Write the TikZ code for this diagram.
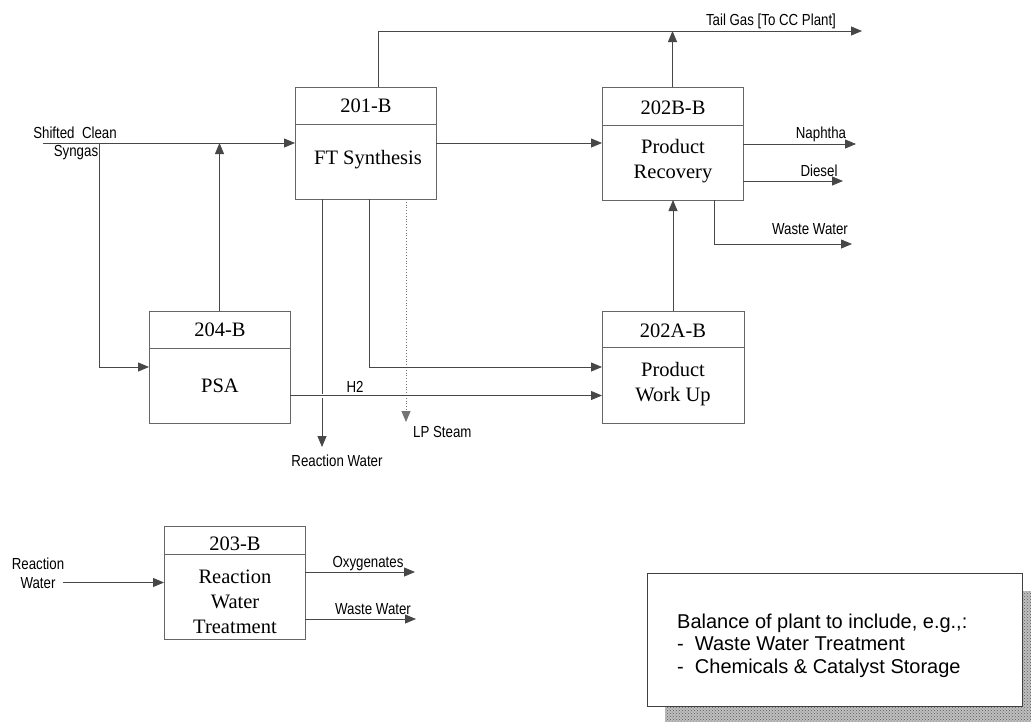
\documentclass[tikz,border=0pt]{standalone}
\usepackage{fontspec}
\setmainfont{Liberation Serif}
\newfontfamily\lblfont[FakeStretch=0.83]{Liberation Sans}
\newfontfamily\balfont{Liberation Sans}
\usetikzlibrary{arrows.meta,patterns}
\begin{document}
\begin{tikzpicture}[x=1pt,y=-1pt,
  box/.style={draw=black!60,line width=0.8pt,fill=white,inner sep=0pt,outer sep=0pt},
  divline/.style={draw=black!60,line width=0.8pt},
  conn/.style={draw=black!72,line width=0.8pt},
  arr/.style={conn,-{Triangle[length=11pt,width=9pt]}},
  halo/.style={preaction={draw=white,line width=4pt,arrows=-,shorten <=3pt,shorten >=3pt}},
  ttl/.style={font=\fontsize{20.5}{25}\selectfont,align=center,inner sep=0pt},
  lbl/.style={font=\lblfont\fontsize{16}{19}\selectfont,align=center,inner sep=0pt},
  baltext/.style={font=\balfont\fontsize{20}{22.5}\selectfont,align=left,inner sep=0pt}
]
\useasboundingbox (0,0) rectangle (1031,721);
\fill[white] (0,0) rectangle (1031,721);

% boxes
\node[box,minimum width=141pt,minimum height=112pt] (ft) at (365.5,143) {};
\node[box,minimum width=141pt,minimum height=113pt] (rec) at (672.5,143.5) {};
\node[box,minimum width=141pt,minimum height=112pt] (psa) at (219.5,367) {};
\node[box,minimum width=142pt,minimum height=112pt] (pwu) at (673,367) {};
\node[box,minimum width=141pt,minimum height=113pt] (rwt) at (234.5,582.5) {};

% dividers
\draw[divline] (ft.west |- 0,124) -- (ft.east |- 0,124);
\draw[divline] (rec.west |- 0,125) -- (rec.east |- 0,125);
\draw[divline] (psa.west |- 0,348) -- (psa.east |- 0,348);
\draw[divline] (pwu.west |- 0,347) -- (pwu.east |- 0,347);
\draw[divline] (rwt.west |- 0,554) -- (rwt.east |- 0,554);

% box texts
\node[ttl] (ftid) at (366,106) {201-B};
\node[ttl] (ftname) at (368,160) {FT Synthesis};
\node[ttl] (recid) at (673,108) {202B-B};
\node[ttl] (recname) at (673,161) {Product\\Recovery};
\node[ttl] (psaid) at (220,330) {204-B};
\node[ttl] (psaname) at (220,386) {PSA};
\node[ttl] (pwuid) at (673,331) {202A-B};
\node[ttl] (pwuname) at (673,384) {Product\\Work Up};
\node[ttl] (rwtid) at (235,544) {203-B};
\node[ttl] (rwtname) at (235,602) {Reaction\\Water\\Treatment};

% coordinates
\coordinate (sg) at (43,143);
\coordinate (br) at (99,143);
\coordinate (tg) at (862,31);
\coordinate (naph) at (856,144);
\coordinate (dsl) at (843,181);
\coordinate (ww1) at (852,244);
\coordinate (rw) at (322,447);
\coordinate (lps) at (406,422);
\coordinate (rwin) at (63,582.5);
\coordinate (oxy) at (415,572);
\coordinate (ww2) at (416,619);

% connectors
\draw[arr] (sg) -- (ft.west);
\draw[arr] (br) |- (psa.west);
\draw[arr] (psa.north) -- (psa.north |- sg);
\draw[arr] ([xshift=12.5pt]ft.north) |- (tg);
\draw[arr] (rec.north) -- (rec.north |- tg);
\draw[arr] (ft.east) -- (ft.east -| rec.west);
\draw[arr] (rec.east |- naph) -- (naph);
\draw[arr] (rec.east |- dsl) -- (dsl);
\draw[arr] ([xshift=41.5pt]rec.south) |- (ww1);
\draw[arr] (pwu.north) -- (pwu.north |- rec.south);
\draw[arr] (ft.south -| rw) -- (rw);
\draw[arr,dotted,draw=black!55] (ft.south -| lps) -- (lps);
\draw[arr,halo] ([xshift=3.5pt]ft.south) |- (pwu.west);
\draw[arr,halo] ([yshift=-28.5pt]psa.east) -- ([yshift=-28.5pt]pwu.west);
\draw[arr] (rwin) -- (rwt.west);
\draw[arr] (rwt.east |- oxy) -- (oxy);
\draw[arr] (rwt.east |- ww2) -- (ww2);

% labels
\node[lbl] (tgl) at (771,21) {Tail Gas [To CC Plant]};
\node[lbl] (naphl) at (821,134) {Naphtha};
\node[lbl] (dsll) at (819,171) {Diesel};
\node[lbl] (ww1l) at (810,229) {Waste Water};
\node[lbl] (sgl1) at (75,133) {Shifted\ \ Clean};
\node[lbl] (sgl2) at (76,153) {Syngas};
\node[lbl] (h2l) at (355,387) {H2};
\node[lbl] (rwl) at (337,461) {Reaction Water};
\node[lbl,anchor=west] (lpsl) at (413,432) {LP Steam};
\node[lbl] (rwinl) at (38,573) {Reaction\\Water};
\node[lbl] (oxyl) at (368,564) {Oxygenates};
\node[lbl] (ww2l) at (373,609) {Waste Water};

% balance of plant box with shadow
\fill[black!25] (665,591) rectangle (1045,735);
\fill[pattern=crosshatch dots,pattern color=black!65] (665,591) rectangle (1045,735);
\node[box,draw=black!75,minimum width=375pt,minimum height=133pt] (bal) at (834.5,639.5) {};
\node[baltext,anchor=west] (balt) at (677,645.5) {Balance of plant to include, e.g.,:\\-~~Waste Water Treatment\\-~~Chemicals \& Catalyst Storage};
\end{tikzpicture}
\end{document}
